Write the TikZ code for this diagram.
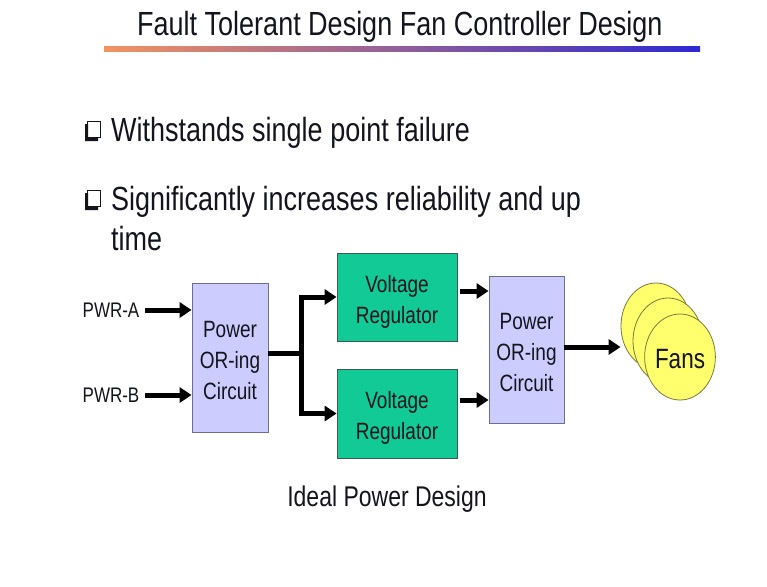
\documentclass[tikz,border=0pt]{standalone}
\usepackage{fontspec}
\setmainfont{Liberation Sans}
\usetikzlibrary{arrows.meta,shapes.geometric}
\newcommand\vs[1]{\scalebox{1}[1.24]{#1}}
\newcommand\fs[2]{\fontsize{#1}{#2}\selectfont}
\newcommand\lines[1]{\raisebox{-3.5pt}[\height][\depth]{\begin{tabular}{@{}c@{}}#1\end{tabular}}}
\definecolor{lav}{RGB}{204,204,255}
\definecolor{lavline}{RGB}{110,110,140}
\definecolor{grn}{RGB}{18,202,150}
\definecolor{grnline}{RGB}{60,90,80}
\definecolor{fanfill}{RGB}{255,255,110}
\definecolor{fanline}{RGB}{120,120,60}
\definecolor{txt}{RGB}{20,20,30}
\definecolor{gorange}{RGB}{242,148,98}
\definecolor{gmid}{RGB}{190,110,160}
\definecolor{gblue}{RGB}{45,40,210}
\tikzset{
  lavbox/.style={draw=lavline, line width=0.8pt, fill=lav, inner sep=0pt, text=txt},
  vrbox/.style={draw=grnline, line width=0.8pt, fill=grn, inner sep=0pt, text=txt,
    minimum width=120pt, minimum height=88pt},
  fan/.style={ellipse, draw=fanline, line width=0.8pt, fill=fanfill, inner sep=0pt,
    minimum width=70pt, minimum height=86pt},
  lbl/.style={inner sep=0pt, text=txt},
  wire/.style={line width=5pt, black},
  arr/.style={line width=5pt, black, -{Triangle[length=12pt,width=15pt]}}
}
\begin{document}
\begin{tikzpicture}[x=1pt,y=-1pt]
\useasboundingbox (0,0) rectangle (767,586);
\fill[white] (0,0) rectangle (767,586);

% title and gradient rule
\node[lbl, anchor=base west] (title) at (137,36) {\vs{\fs{27}{32}Fault Tolerant Design Fan Controller Design}};
\shade[left color=gorange, middle color=gmid, right color=gblue] (104,46.5) rectangle (700,51.5);

% bullets
\draw[line width=1.3pt, txt] (87.5,121.5) rectangle (100.5,137.5);
\fill[txt] (85,124) -- (88,124) -- (88,138) -- (98,138) -- (98,141) -- (85,141) -- cycle;
\draw[line width=1.3pt, txt] (87.5,190.5) rectangle (100.5,206.5);
\fill[txt] (85,193) -- (88,193) -- (88,207) -- (98,207) -- (98,210) -- (85,210) -- cycle;
\node[lbl, anchor=base west] (b1) at (111,141) {\vs{\fs{27}{32}Withstands single point failure}};
\node[lbl, anchor=base west] (b2) at (111,210) {\vs{\fs{27}{32}Significantly increases reliability and up}};
\node[lbl, anchor=base west] (b3) at (111,250) {\vs{\fs{27}{32}time}};

% diagram nodes
\node[lbl] (pwra) at (111,310) {\vs{\fs{17}{20}PWR-A}};
\node[lbl] (pwrb) at (111,395) {\vs{\fs{17}{20}PWR-B}};
\node[lavbox, minimum width=76pt, minimum height=149pt] (or1) at (230,357.5)
  {\vs{\fs{19}{25}\lines{Power\\OR-ing\\Circuit}}};
\node[vrbox] (vr1) at (397,297) {\vs{\fs{19}{25}\lines{Voltage\\Regulator}}};
\node[vrbox, minimum height=89pt] (vr2) at (397,413.5) {\vs{\fs{19}{25}\lines{Voltage\\Regulator}}};
\node[lavbox, minimum width=75pt, minimum height=147pt] (or2) at (526.5,349.5)
  {\vs{\fs{19}{25}\lines{Power\\OR-ing\\Circuit}}};
\node[fan] (fan1) at (656,326) {};
\node[fan] (fan2) at (668,341) {};
\node[fan, text=txt] (fan3) at (680,357) {\raisebox{-2pt}[\height][\depth]{\vs{\fs{22.5}{26}Fans}}};
\node[lbl, anchor=base] (cap) at (387,506) {\vs{\fs{23}{28}Ideal Power Design}};

% connectors
\coordinate (fork) at (301,353);
\draw[arr] ([xshift=5pt]pwra.east) -- (pwra.east -| or1.west);
\draw[arr] ([xshift=5pt]pwrb.east) -- (pwrb.east -| or1.west);
\draw[wire] ([yshift=4.5pt]or1.east) -- (fork);
\draw[arr] (fork) |- (vr1.west);
\draw[arr] (fork) |- (vr2.west);
\draw[arr] ([xshift=3pt,yshift=6pt]vr1.east) -- ([yshift=6pt]vr1.east -| or2.west);
\draw[arr] ([xshift=3pt,yshift=13.5pt]vr2.east) -- ([yshift=13.5pt]vr2.east -| or2.west);
\draw[arr] ([yshift=2.5pt]or2.east) -- ([yshift=2.5pt]or2.east -| fan1.west);
\end{tikzpicture}
\end{document}
